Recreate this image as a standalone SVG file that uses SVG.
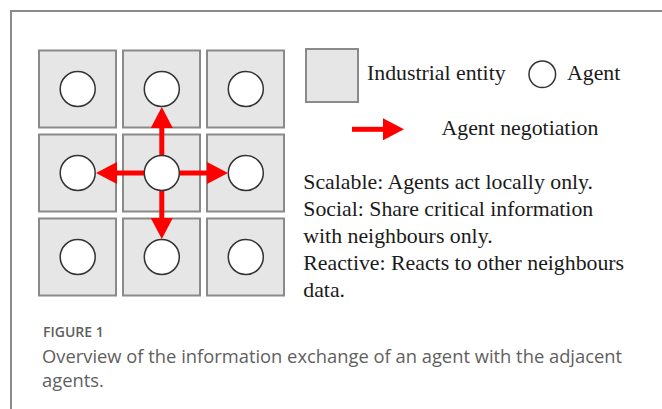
<svg xmlns="http://www.w3.org/2000/svg" width="662" height="409" viewBox="0 0 662 409">
<style>
.ent{fill:#e6e6e6;stroke:#8a8a8a;stroke-width:2}
.ag{fill:#fff;stroke:#333;stroke-width:1.5}
.con{stroke:#ff0000;stroke-width:5;fill:none}
.t{font-family:"Liberation Serif","Times New Roman",serif;font-size:21.8px;fill:#1a1a1a}
.cap{font-family:"Open Sans","Liberation Sans",sans-serif;fill:#5f5f5f}
</style>
<defs>
<marker id="ah" markerWidth="21" markerHeight="22" refX="0" refY="11" orient="auto" markerUnits="userSpaceOnUse">
<path d="M0,0 L21,11 L0,22 Z" fill="#ff0000"/>
</marker>
</defs>
<rect width="662" height="409" fill="#fff"/>
<path d="M11,409 V11 H662" fill="none" stroke="#8c8c8c" stroke-width="2"/>

<g id="n11"><rect class="ent" x="39" y="50.5" width="77" height="77"/><circle class="ag" cx="77.7" cy="89" r="17.5"/></g>
<g id="n12"><rect class="ent" x="123" y="50.5" width="77" height="77"/><circle class="ag" cx="161.8" cy="89" r="17.5"/></g>
<g id="n13"><rect class="ent" x="207" y="50.5" width="77" height="77"/><circle class="ag" cx="245.8" cy="89" r="17.5"/></g>
<g id="n21"><rect class="ent" x="39" y="134.5" width="77" height="77"/><circle class="ag" cx="77.7" cy="173" r="17.5"/></g>
<g id="n22"><rect class="ent" x="123" y="134.5" width="77" height="77"/></g>
<g id="n23"><rect class="ent" x="207" y="134.5" width="77" height="77"/><circle class="ag" cx="245.8" cy="173" r="17.5"/></g>
<g id="n31"><rect class="ent" x="39" y="218.5" width="77" height="77"/><circle class="ag" cx="77.7" cy="257" r="17.5"/></g>
<g id="n32"><rect class="ent" x="123" y="218.5" width="77" height="77"/><circle class="ag" cx="161.8" cy="257" r="17.5"/></g>
<g id="n33"><rect class="ent" x="207" y="218.5" width="77" height="77"/><circle class="ag" cx="245.8" cy="257" r="17.5"/></g>

<g id="connectors">
<line class="con" x1="161.8" y1="156" x2="161.8" y2="128" marker-end="url(#ah)"/>
<line class="con" x1="161.8" y1="190" x2="161.8" y2="218" marker-end="url(#ah)"/>
<line class="con" x1="145" y1="173" x2="117" y2="173" marker-end="url(#ah)"/>
<line class="con" x1="179" y1="173" x2="207" y2="173" marker-end="url(#ah)"/>
</g>

<g id="center-agent"><circle class="ag" cx="161.8" cy="173" r="17.5"/></g>

<g id="legend">
<rect class="ent" x="306" y="49" width="52" height="53"/>
<text class="t" x="367" y="80">Industrial entity</text>
<circle class="ag" cx="542.3" cy="74.3" r="13.3"/>
<text class="t" x="567" y="80">Agent</text>
<line class="con" x1="352" y1="129.3" x2="383" y2="129.3" marker-end="url(#ah)"/>
<text class="t" x="441.5" y="134.5">Agent negotiation</text>
</g>

<g id="properties">
<text class="t" x="303.3" y="189">Scalable: Agents act locally only.</text>
<text class="t" x="303.3" y="216">Social: Share critical information</text>
<text class="t" x="303.3" y="243">with neighbours only.</text>
<text class="t" x="303.3" y="270">Reactive: Reacts to other neighbours</text>
<text class="t" x="303.3" y="297">data.</text>
</g>

<g id="caption">
<text class="cap" x="43" y="336.5" font-size="14" font-weight="600" fill="#666">FIGURE 1</text>
<text class="cap" x="42" y="363" font-size="18.35">Overview of the information exchange of an agent with the adjacent</text>
<text class="cap" x="42" y="386.5" font-size="18.35">agents.</text>
</g>
</svg>
